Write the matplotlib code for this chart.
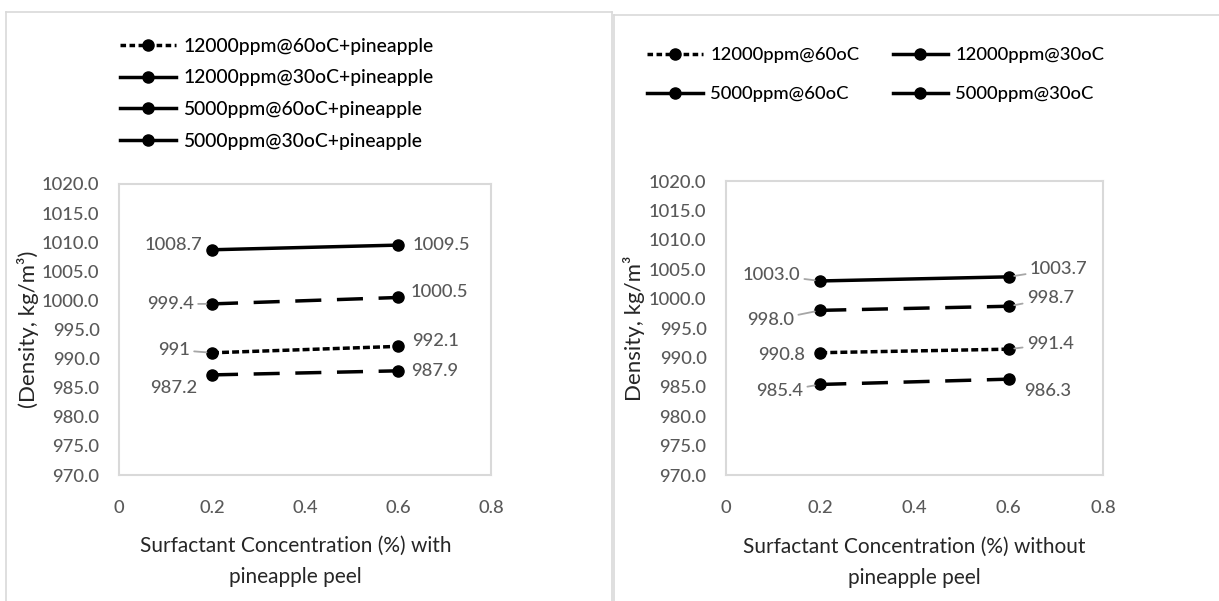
import matplotlib
matplotlib.use("Agg")
import matplotlib.pyplot as plt
from matplotlib.lines import Line2D

plt.rcParams['font.family'] = ['Lato', 'DejaVu Sans']
plt.rcParams['font.weight'] = 'medium'

# surfactant concentration (%)
conc = [0.2, 0.6]

# with pineapple peel
with_12000_60 = [991.0, 992.1]
with_12000_30 = [1008.7, 1009.5]
with_5000_60 = [987.2, 987.9]
with_5000_30 = [999.4, 1000.5]
with_names = ['12000ppm@60oC+pineapple', '12000ppm@30oC+pineapple',
              '5000ppm@60oC+pineapple', '5000ppm@30oC+pineapple']
with_labels = [['991', '992.1'], ['1008.7', '1009.5'], ['987.2', '987.9'], ['999.4', '1000.5']]

# without pineapple peel
wo_12000_60 = [990.8, 991.4]
wo_12000_30 = [1003.0, 1003.7]
wo_5000_60 = [985.4, 986.3]
wo_5000_30 = [998.0, 998.7]
wo_names = ['12000ppm@60oC', '12000ppm@30oC', '5000ppm@60oC', '5000ppm@30oC']
wo_labels = [['990.8', '991.4'], ['1003.0', '1003.7'], ['985.4', '986.3'], ['998.0', '998.7']]

yticks = [970 + 5 * i for i in range(11)]
xticks = [0, 0.2, 0.4, 0.6, 0.8]
xticklabels = ['0', '0.2', '0.4', '0.6', '0.8']

GRAY = '#595959'
LEAD = '#a6a6a6'
styles = [(0, (2.0, 0.9)), '-', (0, (7.5, 4.5)), (0, (7.5, 4.5))]

fig = plt.figure(figsize=(12.19, 6.01), dpi=100)
W, H = 1219, 601


def fx(px):
    return px / W


def fy(py):
    return 1 - py / H


# panel borders
for (x0, y0, x1, y1) in [(6, 12, 612, 12), (6, 12, 6, 601), (612, 12, 612, 601),
                         (614, 15, 1219, 15), (614, 15, 614, 601)]:
    fig.add_artist(Line2D([fx(x0), fx(x1)], [fy(y0), fy(y1)], color='#d9d9d9', lw=1.2))


def make_axes(rect, series, labels, label_pos, ylabel, xlabel, xlab_x):
    ax = fig.add_axes(rect)
    for vals, ls in zip(series, styles):
        ax.plot(conc, vals, color='black', lw=2.5, linestyle=ls, marker='o', markersize=8,
                dash_capstyle='butt')
    ax.set_xlim(0, 0.8)
    ax.set_ylim(970, 1020)
    ax.set_yticks(yticks)
    ax.set_yticklabels([f'{v:.1f}' for v in yticks])
    ax.set_xticks(xticks)
    ax.set_xticklabels(xticklabels)
    ax.tick_params(length=0, labelsize=13.2, labelcolor=GRAY)
    ax.tick_params(axis='y', pad=14)
    ax.tick_params(axis='x', pad=18)
    for s in ax.spines.values():
        s.set_color('#d9d9d9')
        s.set_linewidth(1.5)
    ax.set_ylabel(ylabel, fontsize=16, color='#262626')
    ax.yaxis.set_label_coords(-0.215, 0.5)
    ax.set_xlabel(xlabel, fontsize=15, color='#262626', linespacing=1.7)
    ax.xaxis.set_label_coords(xlab_x, -0.21)
    ax.xaxis.label.set_va('top')
    for vals, labs, poss in zip(series, labels, label_pos):
        for x, v, lab, (dx, dy, ha, lead) in zip(conc, vals, labs, poss):
            arrow = dict(arrowstyle='-', color=LEAD, lw=1.3, shrinkA=1, shrinkB=4) if lead else None
            ax.annotate(lab, (x, v), xytext=(dx, dy), textcoords='offset pixels',
                        ha=ha, va='center', fontsize=13.2, color=GRAY, arrowprops=arrow)
    return ax


# label offsets in pixels: (dx, dy, ha, leader)
with_pos = [
    [(-22, 3, 'right', True), (14, 5, 'left', False)],
    [(-10, 5, 'right', False), (15, 0, 'left', False)],
    [(-15, -13, 'right', False), (13, 0, 'left', False)],
    [(-18, 0, 'right', True), (13, 5, 'left', False)],
]
wo_pos = [
    [(-15, -2, 'right', False), (18, 5, 'left', True)],
    [(-20, 6, 'right', True), (21, 8, 'left', True)],
    [(-17, -7, 'right', True), (15, -12, 'left', False)],
    [(-26, -10, 'right', True), (18, 8, 'left', True)],
]

ax1 = make_axes([fx(119), fy(475), fx(491 - 119), (475 - 184) / H],
                [with_12000_60, with_12000_30, with_5000_60, with_5000_30],
                with_labels, with_pos,
                '(Density, kg/m³)', 'Surfactant Concentration (%) with\npineapple peel', 0.475)
ax2 = make_axes([fx(726), fy(475), fx(1103 - 726), (475 - 181) / H],
                [wo_12000_60, wo_12000_30, wo_5000_60, wo_5000_30],
                wo_labels, wo_pos,
                'Density, kg/m³', 'Surfactant Concentration (%) without\npineapple peel', 0.5)


def handles(names):
    out = []
    for i, n in enumerate(names):
        ls = (0, (1.6, 1.0)) if i == 0 else '-'
        out.append(Line2D([], [], color='black', lw=2.5, linestyle=ls, marker='o',
                          markersize=8, label=n))
    return out


fig.legend(handles=handles(with_names), loc='upper left',
           bbox_to_anchor=(fx(112), fy(30)), frameon=False, fontsize=13.9,
           handlelength=2.9, handletextpad=0.4, labelspacing=0.76, borderaxespad=0)

# row-major order for the two-column legend
h2 = handles(wo_names)
fig.legend(handles=[h2[0], h2[2], h2[1], h2[3]], loc='upper left', ncol=2,
           bbox_to_anchor=(fx(640), fy(40)), frameon=False, fontsize=13.3,
           handlelength=3.0, handletextpad=0.4, labelspacing=1.25, columnspacing=1.8,
           borderaxespad=0)

fig.savefig('out.png', dpi=100)
